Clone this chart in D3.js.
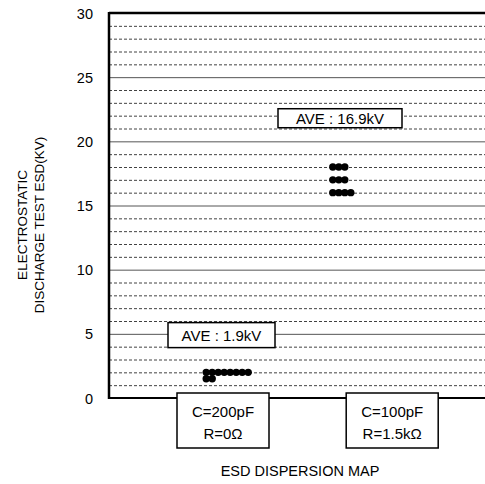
<!DOCTYPE html>
<html>
<head>
<meta charset="utf-8">
<script src="https://cdn.jsdelivr.net/npm/d3@7"></script>
<style>
  body { margin: 0; background: #fff; }
  svg { font-family: "Liberation Sans", Arial, sans-serif; }
</style>
</head>
<body>
<div id="vis"></div>
<script>
// measured ESD values (kV), one entry per sample
const groups = ['C=200pF|R=0Ω', 'C=100pF|R=1.5kΩ'];
const samples200pF = [2, 2, 2, 2, 2, 2, 2, 2, 1.5, 1.5];
const samples100pF = [18, 18, 18, 17, 17, 17, 16, 16, 16, 16];
const averages = ['AVE : 1.9kV', 'AVE : 16.9kV'];
const yTicks = [0, 5, 10, 15, 20, 25, 30];

const _w = 485, _h = 484;
const svg = d3.select('#vis').append('svg').attr('width', _w).attr('height', _h);

const y = d3.scaleLinear().domain([0, 30]).range([398, 13]);
// horizontal position in "dot columns"
const x = d3.scaleLinear().domain([0, 63]).range([109, 487]);

// where things sit along x, in column units
const dotStart = [16.2, 37.3];
const labelCenter = [19, 47.2];
const aveCenter = [18.75, 38.5];
const aveValue = [4.9, 21.8];

// minor dashed grid
const minor = d3.range(1, 30).filter(v => v % 5 !== 0);
svg.append('g').selectAll('line').data(minor).join('line')
  .attr('x1', x(0)).attr('x2', _w)
  .attr('y1', d => y(d) + 0.5).attr('y2', d => y(d) + 0.5)
  .attr('stroke', '#111').attr('stroke-width', 0.8)
  .attr('stroke-dasharray', '3,2');

// major solid grid
svg.append('g').selectAll('line').data([5, 10, 15, 20, 25]).join('line')
  .attr('x1', x(0)).attr('x2', _w)
  .attr('y1', d => y(d) + 0.5).attr('y2', d => y(d) + 0.5)
  .attr('stroke', '#555').attr('stroke-width', 1);

// frame
svg.append('line').attr('x1', x(0)).attr('x2', _w).attr('y1', y(30)).attr('y2', y(30))
  .attr('stroke', '#000').attr('stroke-width', 2.5);
svg.append('line').attr('x1', x(0)).attr('x2', _w).attr('y1', y(0)).attr('y2', y(0))
  .attr('stroke', '#000').attr('stroke-width', 2);
svg.append('line').attr('x1', x(0)).attr('x2', x(0)).attr('y1', y(30) - 1).attr('y2', y(0) + 1)
  .attr('stroke', '#000').attr('stroke-width', 2.5);

// y tick labels
svg.append('g').selectAll('text').data(yTicks).join('text')
  .attr('x', 93).attr('y', d => y(d) + 5.5)
  .attr('text-anchor', 'end').attr('font-size', 14.5)
  .text(d => d);

// y axis title
const yt = svg.append('text')
  .attr('transform', 'translate(27,225) rotate(-90)')
  .attr('text-anchor', 'middle').attr('font-size', 13.5);
yt.append('tspan').attr('x', 0).attr('dy', 0).text('ELECTROSTATIC');
yt.append('tspan').attr('x', 0).attr('dy', 17).text('DISCHARGE TEST ESD(KV)');

// dots: equal values stack sideways
[samples200pF, samples100pF].forEach((vals, gi) => {
  const count = {};
  const pts = vals.map(v => {
    const k = count[v] || 0;
    count[v] = k + 1;
    return { v: v, col: dotStart[gi] + k };
  });
  svg.append('g').selectAll('circle').data(pts).join('circle')
    .attr('cx', d => x(d.col)).attr('cy', d => y(d.v))
    .attr('r', 3.7).attr('fill', '#000');
});

// average boxes
averages.forEach((t, i) => {
  const g = svg.append('g');
  const w = i === 0 ? 107 : 124;
  const hh = i === 0 ? 25 : 19;
  g.append('rect')
    .attr('x', x(aveCenter[i]) - w / 2).attr('y', y(aveValue[i]) - hh / 2)
    .attr('width', w).attr('height', hh)
    .attr('fill', '#fff').attr('stroke', '#000').attr('stroke-width', 1.5);
  g.append('text')
    .attr('x', x(aveCenter[i])).attr('y', y(aveValue[i]) + 5.5)
    .attr('text-anchor', 'middle').attr('font-size', 15)
    .text(t);
});

// category label boxes
groups.forEach((t, i) => {
  const cx = x(labelCenter[i]);
  const lines = t.split('|');
  svg.append('rect')
    .attr('x', cx - 46).attr('y', 393).attr('width', 92).attr('height', 55)
    .attr('fill', '#fff').attr('stroke', '#000').attr('stroke-width', 1.5);
  lines.forEach((l, j) => {
    svg.append('text')
      .attr('x', cx).attr('y', 416.5 + j * 22)
      .attr('text-anchor', 'middle').attr('font-size', 15)
      .text(l);
  });
});

// x title
svg.append('text')
  .attr('x', 300).attr('y', 476)
  .attr('text-anchor', 'middle').attr('font-size', 14.5)
  .text('ESD DISPERSION MAP');
</script>
</body>
</html>
